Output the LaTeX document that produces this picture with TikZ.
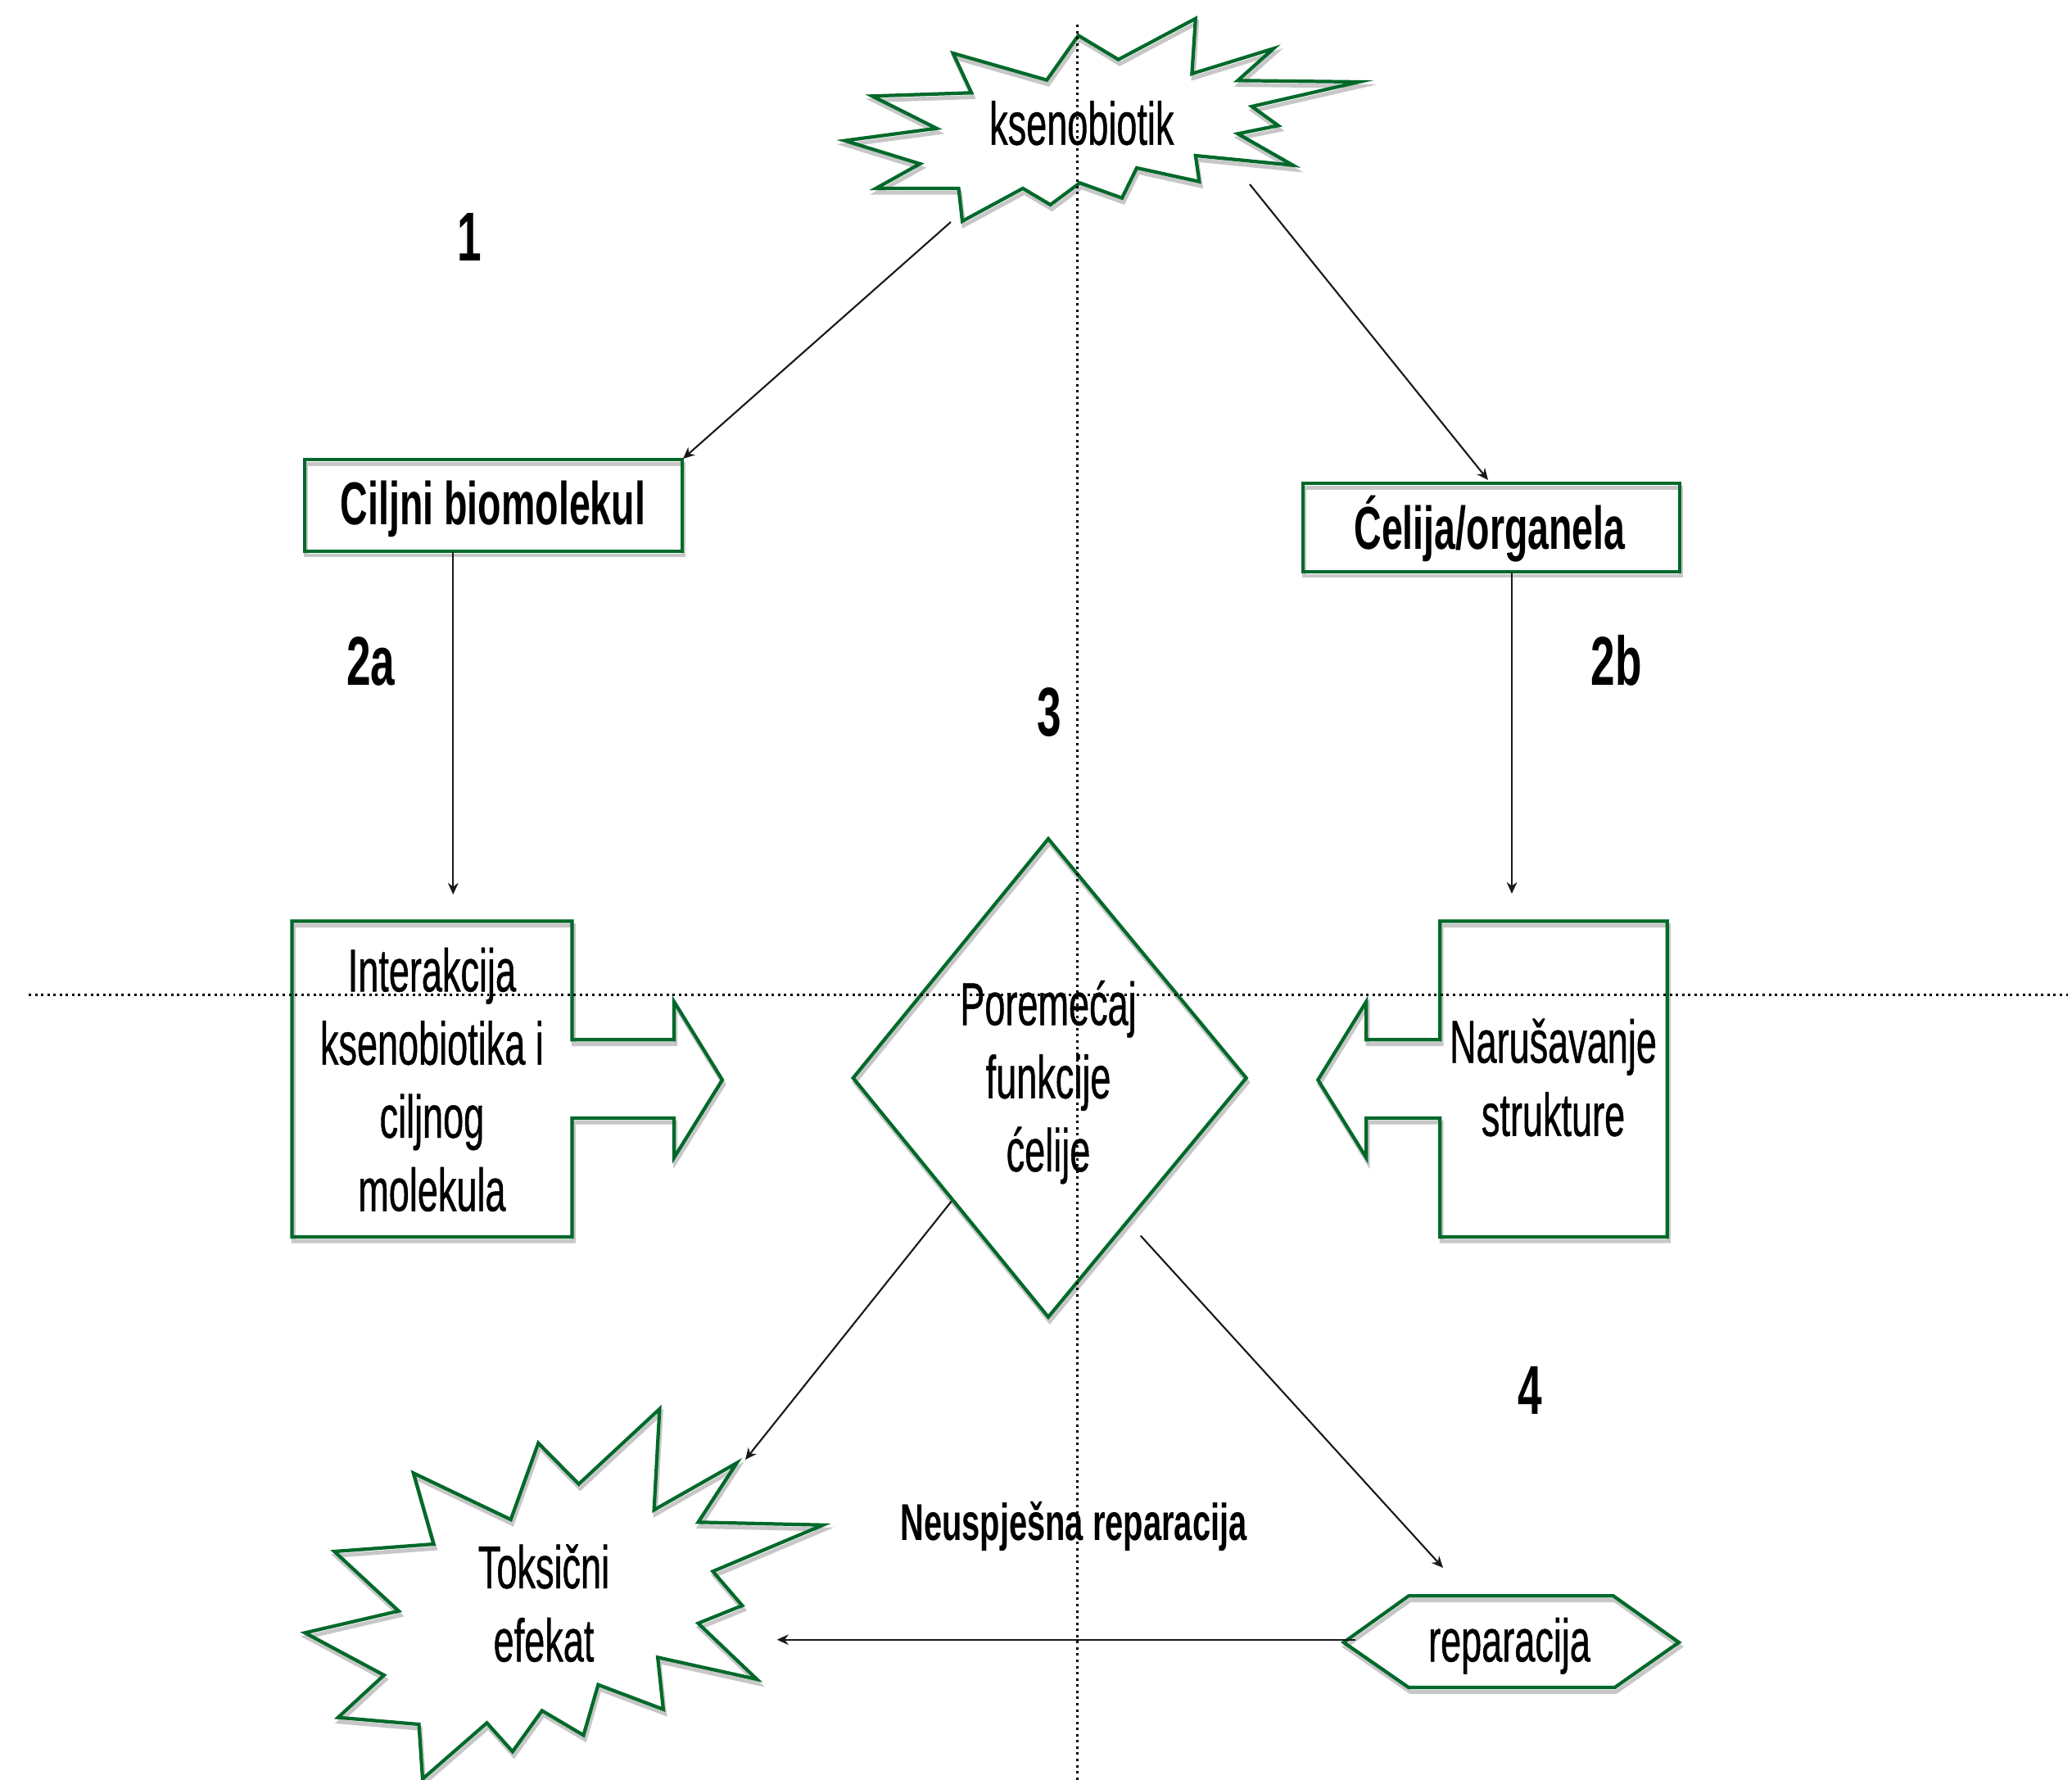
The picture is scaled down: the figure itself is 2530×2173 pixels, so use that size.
\documentclass[tikz,border=0pt]{standalone}
\usepackage{fontspec}
\setmainfont{Liberation Sans}
\newfontfamily\narrowf[FakeStretch=0.61,FakeBold=0.6]{Liberation Sans}
\newfontfamily\nbf[FakeStretch=0.63]{Liberation Sans}
\usetikzlibrary{arrows.meta}
\definecolor{sgreen}{RGB}{0,105,42}
\tikzset{
  outline/.style={draw=sgreen, line width=1.2pt, line join=miter},
  shadowline/.style={draw=black!22, line width=1.4pt, line join=miter},
  conn/.style={draw=black!90, line width=0.6pt, -{Stealth[length=4pt,width=3.6pt]}},
  guide/.style={draw=black, line width=0.85pt, dash pattern=on 0.85pt off 1.3pt},
  txt/.style={font={\narrowf\fontsize{21pt}{25.4pt}\selectfont}, align=center, inner sep=0pt, anchor=base},
  boldtxt/.style={font={\nbf\bfseries\fontsize{21pt}{25.4pt}\selectfont}, inner sep=0pt, anchor=base},
  smallbold/.style={font={\nbf\bfseries\fontsize{18pt}{22pt}\selectfont}, inner sep=0pt, anchor=base},
  numtxt/.style={font={\nbf\bfseries\fontsize{24pt}{28pt}\selectfont}, inner sep=0pt, anchor=base},
  pics/starK/.style={code={\path[pic actions] (1316.7,43.3) -- (1365.6,72.7) -- (1459.8,22.7) -- (1455.4,90) -- (1555,59.3) -- (1511.4,98.3) -- (1659.5,100) -- (1528.5,130) -- (1560.8,153.3) -- (1511.4,163.3) -- (1578.7,201.7) -- (1459.8,190) -- (1464.3,221.7) -- (1388,205) -- (1370,241.7) -- (1318.5,223.3) -- (1282.6,250) -- (1249,230) -- (1175,270) -- (1170.5,230) -- (1069.5,230) -- (1123.4,200) -- (1031.4,171.7) -- (1143.6,156.7) -- (1065,117.3) -- (1186.2,113.3) -- (1163.7,65) -- (1278.2,97.7) -- cycle;}},
  pics/starT/.style={code={\path[pic actions] (805.4,1720) -- (798.6,1843.3) -- (899.6,1786) -- (852.5,1858.3) -- (1005,1861.7) -- (870.4,1918.3) -- (906.3,1960) -- (852.5,1981.7) -- (924.2,2050) -- (803.1,2023.3) -- (809.9,2086.7) -- (730.4,2056.7) -- (712.5,2118.3) -- (661.8,2088.3) -- (625.9,2138.3) -- (594.5,2103.3) -- (516,2171.7) -- (511.5,2105) -- (412.8,2096.7) -- (468.9,2045) -- (372.4,1993.3) -- (486.8,1966.7) -- (408.3,1894) -- (529.5,1885) -- (504.8,1798.3) -- (623.7,1855) -- (657.3,1761.7) -- (706.7,1811.7) -- cycle;}},
  pics/boxC/.style={code={\path[pic actions] (371.7,561) rectangle (832.7,672.7);}},
  pics/boxO/.style={code={\path[pic actions] (1591,590) rectangle (2051,697.7);}},
  pics/calloutL/.style={code={\path[pic actions] (356.6,1124.6) -- (698.6,1124.6) -- (698.6,1269.3) -- (823,1269.3) -- (823,1222.7) -- (882,1318.3) -- (823,1413.3) -- (823,1365) -- (698.6,1365) -- (698.6,1510) -- (356.6,1510) -- cycle;}},
  pics/calloutR/.style={code={\path[pic actions] (2035.7,1124.6) -- (1758.3,1124.6) -- (1758.3,1269.3) -- (1668.3,1269.3) -- (1668.3,1222.7) -- (1609.3,1318.3) -- (1668.3,1413.3) -- (1668.3,1365) -- (1758.3,1365) -- (1758.3,1510) -- (2035.7,1510) -- cycle;}},
  pics/diam/.style={code={\path[pic actions] (1280,1024) -- (1521.7,1316) -- (1280,1607.8) -- (1041.7,1316) -- cycle;}},
  pics/hexR/.style={code={\path[pic actions] (1640.7,2005) -- (1720,1948.3) -- (1970,1948.3) -- (2050,2005) -- (1971.7,2060) -- (1720,2060) -- cycle;}},
}
\begin{document}
\begin{tikzpicture}[x=0.01cm, y=-0.01cm]
\fill[white] (0,0) rectangle (2530,2173);
\useasboundingbox (0,0) rectangle (2530,2173);

% shadows
\foreach \p in {starK,starT,boxC,boxO,calloutL,calloutR,diam,hexR}{
  \pic[shadowline] at (0.5pt,-1.5pt) {\p};
}
% outlines
\foreach \p in {starK,starT,boxC,boxO,calloutL,calloutR,diam,hexR}{
  \pic[outline] {\p};
}

% texts (base anchor = baseline of the last line)
\node[txt] (ksen) at (1320.8,176.7) {ksenobiotik};
\node[boldtxt] (cilj) at (602,640.7) {Ciljni biomolekul};
\node[boldtxt] (celo) at (1819,670) {Ćelija/organela};
\node[txt] (inter) at (527.4,1478.3) {Interakcija\\ksenobiotika i\\ciljnog\\molekula};
\node[txt] (porem) at (1280,1430) {Poremećaj\\funkcije\\ćelije};
\node[txt] (naru) at (1896.5,1386.7) {Narušavanje\\strukture};
\node[txt] (toks) at (664,2028.3) {Toksični\\efekat};
\node[txt] (repa) at (1843,2028.3) {reparacija};
\node[smallbold] (neus) at (1311,1880) {Neuspješna reparacija};
\node[numtxt] (n1) at (573,318.7) {1};
\node[numtxt] (n2a) at (453,836) {2a};
\node[numtxt] (n2b) at (1973.7,836.7) {2b};
\node[numtxt] (n3) at (1281,898.3) {3};
\node[numtxt] (n4) at (1868,1726.7) {4};

% connector ends
\coordinate (k1s) at (1161,271);
\coordinate (cbt) at (834,560);
\coordinate (k2s) at (1526,225);
\coordinate (cot) at (1817,586);
\coordinate (cbs) at (553.3,674);
\coordinate (cbe) at (553.3,1092);
\coordinate (cos) at (1846,699);
\coordinate (coe) at (1846,1091);
\coordinate (d1) at (1161.7,1466.6);
\coordinate (tke) at (910,1782);
\coordinate (d2) at (1392.7,1508.5);
\coordinate (rpe) at (1762,1914);
\coordinate (rps) at (1655,2001.7);
\coordinate (tks) at (948.7,2001.7);

\draw[conn] (k1s) -- (cbt);
\draw[conn] (k2s) -- (cot);
\draw[conn] (cbs) -- (cbe);
\draw[conn] (cos) -- (coe);
\draw[conn] (d1) -- (tke);
\draw[conn] (d2) -- (rpe);
\draw[conn] (rps) -- (tks);

% dotted guide lines
\coordinate (gv1) at (1315,30);
\coordinate (gv2) at (1315,2173);
\coordinate (gh1) at (35,1214);
\coordinate (gh2) at (2530,1214);
\draw[guide] (gv1) -- (gv2);
\draw[guide] (gh1) -- (gh2);
\end{tikzpicture}
\end{document}
